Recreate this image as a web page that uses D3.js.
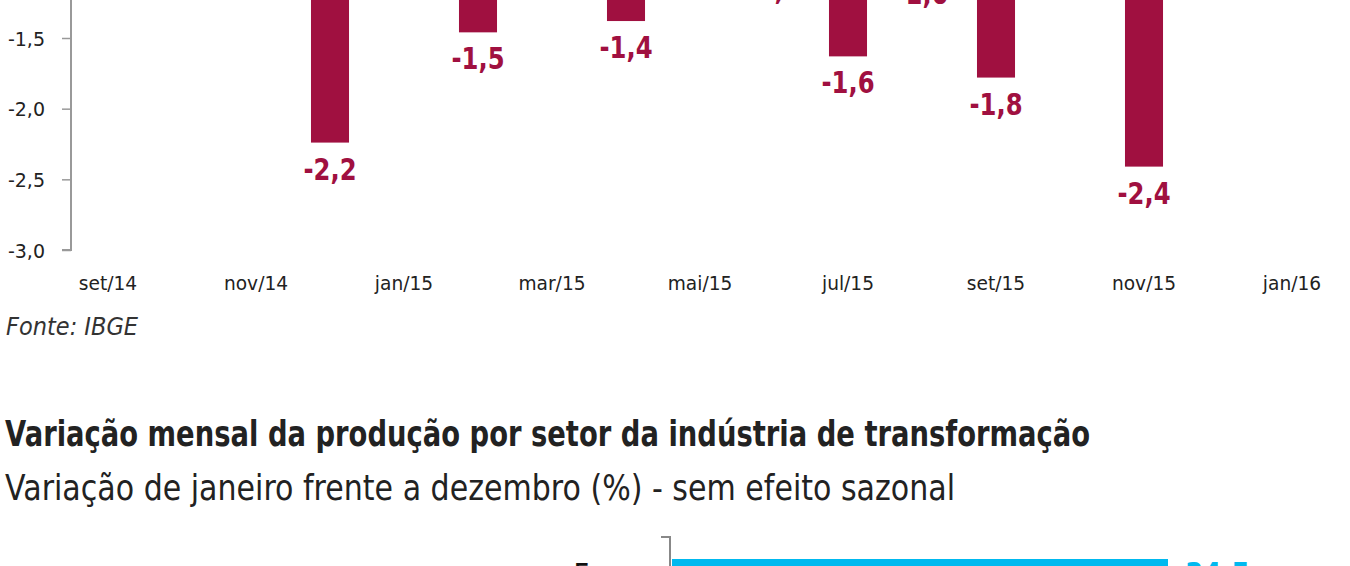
<!DOCTYPE html>
<html>
<head>
    <meta charset="utf-8">
    <title>Produção industrial</title>
    <script src="https://d3js.org/d3.v7.min.js"></script>
    <style>
        body { margin: 0; background: #fff; }
        svg { display: block; }
        text { font-family: "DejaVu Sans", "Noto Sans", sans-serif; }
    </style>
</head>
<body>
<div id="visualization"></div>
<script>
// monthly variation (%), seasonally adjusted
const months = ["set/14","out/14","nov/14","dez/14","jan/15","fev/15","mar/15","abr/15","mai/15",
                "jun/15","jul/15","ago/15","set/15","out/15","nov/15","dez/15","jan/16"];
const monthValues = [0.1, -0.3, -0.6, -2.24, 0.3, -1.46, -0.8, -1.38, 0.5,
                     -0.97, -1.63, -1.0, -1.78, -0.7, -2.41, -0.7, 0.4];
const monthTicks = ["set/14","nov/14","jan/15","mar/15","mai/15","jul/15","set/15","nov/15","jan/16"];
const yTicks = [-1.5, -2.0, -2.5, -3.0];

// sector variation, jan vs dec (%)
const sectors = ["Fumo"];
const sectorValues = [34.5];

const red = "#a01040", cyan = "#00b9ef";
const fmt = v => v.toFixed(1).replace(".", ",");

// squeeze text horizontally, the original face is a narrow one
function condense(sel, k) {
    sel.each(function() {
        const w = this.getComputedTextLength();
        d3.select(this).attr("textLength", w * k).attr("lengthAdjust", "spacingAndGlyphs");
    });
}

const svg = d3.select("#visualization").append("svg")
    .attr("width", 1350)
    .attr("height", 566);

// ---- top chart (cropped, zero line sits above the window) ----
const y = d3.scaleLinear().domain([-3, 0]).range([250, -174]);
const x = d3.scaleBand().domain(months).range([71, 1329])
    .paddingInner(0.486).paddingOuter(0.243);

const yAxis = svg.append("g")
    .attr("transform", "translate(71,0)")
    .call(d3.axisLeft(y).tickValues(yTicks).tickSize(9).tickSizeOuter(0).tickFormat(fmt));
yAxis.select(".domain").attr("stroke", "#999").attr("stroke-width", 2)
    .attr("d", `M0,${y(0)}V${y(-3)}H-9`);
yAxis.selectAll(".tick line").attr("stroke", "#999").attr("stroke-width", 1.5);
yAxis.selectAll(".tick text")
    .attr("x", -26)
    .attr("dy", "0.35em")
    .style("font-size", "20px")
    .attr("fill", "#222")
    .call(condense, 0.95);

const xAxis = svg.append("g")
    .attr("transform", "translate(0,273)")
    .call(d3.axisBottom(x).tickValues(monthTicks).tickSize(0));
xAxis.select(".domain").remove();
xAxis.selectAll(".tick text")
    .style("font-size", "20px")
    .attr("fill", "#222")
    .call(condense, 0.93);

svg.selectAll(".bar")
    .data(monthValues)
    .enter().append("rect")
    .attr("class", "bar")
    .attr("x", (d, i) => x(months[i]))
    .attr("width", x.bandwidth())
    .attr("y", d => y(Math.max(0, d)))
    .attr("height", d => Math.abs(y(d) - y(0)))
    .attr("fill", red);

svg.selectAll(".bar-label")
    .data(monthValues)
    .enter().append("text")
    .attr("class", "bar-label")
    .attr("x", (d, i) => x(months[i]) + x.bandwidth() / 2)
    .attr("y", d => d < 0 ? y(d) + 37 : y(d) - 10)
    .attr("text-anchor", "middle")
    .style("font-size", "30px")
    .style("font-weight", "bold")
    .attr("fill", red)
    .text(fmt)
    .call(condense, 0.81);

svg.append("text")
    .attr("x", 6)
    .attr("y", 335)
    .style("font-size", "25px")
    .style("font-style", "italic")
    .attr("fill", "#333")
    .text("Fonte: IBGE")
    .call(condense, 0.9);

// ---- second chart header ----
svg.append("text")
    .attr("x", 5)
    .attr("y", 446)
    .attr("textLength", 1085)
    .attr("lengthAdjust", "spacingAndGlyphs")
    .style("font-size", "35px")
    .style("font-weight", "bold")
    .attr("fill", "#222")
    .text("Variação mensal da produção por setor da indústria de transformação");

svg.append("text")
    .attr("x", 5)
    .attr("y", 500)
    .attr("textLength", 950)
    .attr("lengthAdjust", "spacingAndGlyphs")
    .style("font-size", "35px")
    .attr("fill", "#222")
    .text("Variação de janeiro frente a dezembro (%) - sem efeito sazonal");

// ---- second chart (only the first bar falls inside the window) ----
const x2 = d3.scaleLinear().domain([0, 34.5]).range([672, 1168]);
const y2 = d3.scaleBand().domain(sectors).range([559, 620]).paddingInner(0.3).align(0);

svg.append("path")
    .attr("d", "M661,537H670V566")
    .attr("fill", "none")
    .attr("stroke", "#888")
    .attr("stroke-width", 2);

svg.selectAll(".hbar")
    .data(sectorValues)
    .enter().append("rect")
    .attr("class", "hbar")
    .attr("x", x2(0))
    .attr("y", (d, i) => y2(sectors[i]))
    .attr("width", d => x2(d) - x2(0))
    .attr("height", 40)
    .attr("fill", cyan);

svg.selectAll(".hbar-label")
    .data(sectorValues)
    .enter().append("text")
    .attr("class", "hbar-label")
    .attr("x", d => x2(d) + 17)
    .attr("y", (d, i) => y2(sectors[i]) + 26)
    .style("font-size", "32px")
    .style("font-weight", "bold")
    .attr("fill", cyan)
    .text(fmt)
    .call(condense, 0.82);

svg.selectAll(".cat-label")
    .data(sectors)
    .enter().append("text")
    .attr("class", "cat-label")
    .attr("x", 648)
    .attr("y", d => y2(d) + 27)
    .attr("text-anchor", "end")
    .style("font-size", "32px")
    .attr("fill", "#111")
    .text(d => d)
    .call(condense, 0.85);
</script>
</body>
</html>
